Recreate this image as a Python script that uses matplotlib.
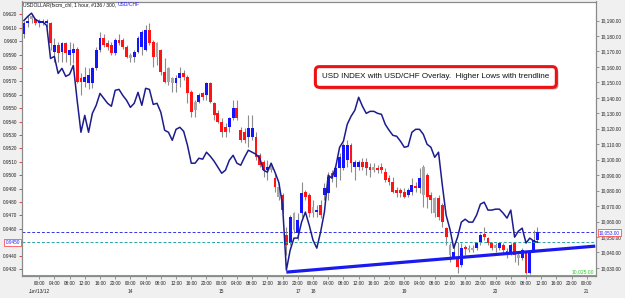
import numpy as np
import pandas as pd
import matplotlib
matplotlib.use('Agg')
import matplotlib.pyplot as plt
import matplotlib.patheffects as pe
from matplotlib.transforms import blended_transform_factory

plt.rcParams['font.family'] = ['Liberation Sans', 'DejaVu Sans']

# hourly bars, index 0 = Jun 13 00:00, weekend (Fri 20:00 .. Sun 19:00) removed
bar_idx = np.arange(-4, 132)
times = list(pd.date_range('2012-06-12 20:00', '2012-06-15 19:00', freq='h')) + \
        list(pd.date_range('2012-06-17 20:00', '2012-06-21 02:00', freq='h'))

# USDOLLAR candles (right scale)
opens = [10181.6, 10188.1, 10191.3, 10191.3, 10188.1, 10188.3, 10188.1, 10188.1, 10169.4, 10173.9,
         10169.4, 10175.2, 10167.4, 10168.7, 10171.3, 10152.6, 10150.0, 10149.4, 10149.4, 10159.0,
         10170.7, 10178.4, 10175.2, 10173.9, 10168.7, 10177.1, 10177.1, 10172.6, 10165.5, 10166.1,
         10169.4, 10172.6, 10170.7, 10183.6, 10175.8, 10175.2, 10170.7, 10156.5, 10159.0, 10152.6,
         10149.4, 10152.6, 10155.8, 10153.2, 10143.6, 10132.0, 10137.1, 10142.9, 10141.6, 10149.4,
         10136.5, 10130.0, 10124.2, 10121.0, 10121.0, 10126.8, 10133.2, 10119.0, 10117.8, 10114.5,
         10114.5, 10114.5, 10102.9, 10098.4, 10093.3, 10096.5, 10088.1, 10082.3, 10077.1, 10051.3,
         10046.2, 10065.5, 10052.6, 10065.5, 10079.1, 10077.1, 10069.4, 10066.2, 10070.7, 10077.1,
         10078.4, 10091.3, 10088.7, 10094.5, 10094.5, 10099.7, 10109.4, 10095.2, 10095.2, 10098.4,
         10098.4, 10095.2, 10095.2, 10094.5, 10095.2, 10092.0, 10088.1, 10085.5, 10080.4, 10080.4,
         10079.1, 10077.1, 10079.1, 10082.9, 10081.6, 10095.2, 10090.0, 10077.1, 10075.2, 10075.2,
         10070.7, 10055.8, 10044.9, 10037.1, 10037.1, 10032.0, 10043.6, 10042.9, 10042.9, 10042.9,
         10046.8, 10052.0, 10049.4, 10046.2, 10044.9, 10042.9, 10044.9, 10041.0, 10039.7, 10046.2,
         10038.4, 10036.5, 10039.7, 10026.8, 10041.6, 10048.1]
highs = [10190.0, 10193.2, 10194.5, 10191.9, 10191.3, 10191.0, 10191.0, 10189.0, 10178.4, 10175.8,
         10175.8, 10175.8, 10175.8, 10175.2, 10172.6, 10155.8, 10159.7, 10159.0, 10159.7, 10172.6,
         10182.3, 10181.6, 10177.1, 10175.8, 10178.4, 10181.6, 10178.4, 10173.9, 10168.7, 10170.7,
         10180.3, 10183.6, 10186.8, 10188.1, 10177.1, 10175.8, 10171.9, 10165.5, 10159.7, 10153.2,
         10154.5, 10159.7, 10157.7, 10154.5, 10144.8, 10138.4, 10142.9, 10143.6, 10150.0, 10150.0,
         10137.1, 10132.0, 10126.8, 10123.6, 10127.4, 10138.4, 10138.4, 10121.0, 10120.3, 10128.7,
         10128.7, 10117.8, 10104.2, 10099.7, 10099.7, 10097.8, 10091.3, 10084.9, 10078.4, 10056.5,
         10064.2, 10066.2, 10065.5, 10085.5, 10080.4, 10078.4, 10073.9, 10070.7, 10073.9, 10084.9,
         10092.0, 10093.3, 10095.2, 10104.2, 10110.7, 10112.6, 10110.7, 10099.7, 10099.7, 10101.0,
         10101.0, 10097.8, 10097.8, 10096.5, 10097.8, 10094.5, 10090.0, 10088.7, 10082.3, 10081.6,
         10081.6, 10081.6, 10088.1, 10085.5, 10094.5, 10096.5, 10091.3, 10079.1, 10075.8, 10077.1,
         10072.0, 10056.5, 10046.2, 10046.2, 10046.8, 10046.2, 10044.9, 10044.9, 10044.9, 10046.8,
         10052.6, 10056.5, 10050.0, 10046.8, 10046.2, 10046.8, 10046.2, 10042.9, 10046.2, 10046.8,
         10039.7, 10042.9, 10040.4, 10041.6, 10054.5, 10056.5]
lows = [10179.0, 10185.5, 10188.7, 10186.8, 10186.1, 10187.0, 10186.0, 10170.7, 10162.9, 10162.9,
        10162.9, 10162.9, 10161.0, 10162.3, 10149.4, 10141.6, 10146.8, 10145.5, 10146.1, 10157.7,
        10169.4, 10172.6, 10170.7, 10167.4, 10167.4, 10173.9, 10171.9, 10165.5, 10162.9, 10162.9,
        10168.7, 10167.4, 10170.0, 10173.9, 10159.7, 10161.0, 10154.5, 10149.4, 10148.1, 10143.6,
        10143.6, 10146.8, 10151.3, 10136.5, 10127.4, 10127.4, 10136.5, 10138.4, 10138.4, 10136.5,
        10125.5, 10123.6, 10114.5, 10114.5, 10117.8, 10125.5, 10125.5, 10111.3, 10110.7, 10108.1,
        10112.6, 10099.7, 10095.2, 10088.7, 10086.8, 10092.0, 10079.1, 10073.9, 10065.5, 10038.4,
        10044.9, 10052.6, 10048.1, 10062.9, 10073.9, 10062.9, 10062.9, 10062.9, 10062.3, 10073.9,
        10073.9, 10085.5, 10082.3, 10086.8, 10093.3, 10095.2, 10092.0, 10086.8, 10093.3, 10093.3,
        10090.0, 10088.7, 10092.0, 10091.3, 10091.3, 10085.5, 10083.6, 10078.4, 10075.8, 10075.8,
        10075.2, 10075.8, 10077.1, 10079.1, 10078.4, 10069.4, 10068.7, 10065.5, 10062.9, 10061.0,
        10056.5, 10044.9, 10033.9, 10036.5, 10026.8, 10030.7, 10038.4, 10040.4, 10040.4, 10041.6,
        10044.9, 10048.1, 10044.9, 10041.6, 10040.4, 10041.6, 10039.7, 10036.5, 10038.4, 10033.9,
        10032.0, 10035.2, 10026.2, 10026.2, 10040.4, 10046.8]
closes = [10188.1, 10190.0, 10193.2, 10188.7, 10190.0, 10190.0, 10189.5, 10175.2, 10173.9, 10168.7,
          10175.2, 10168.7, 10170.7, 10171.3, 10150.0, 10150.0, 10153.2, 10154.5, 10159.0, 10170.7,
          10178.4, 10173.9, 10172.6, 10168.7, 10177.1, 10175.2, 10172.6, 10166.1, 10167.4, 10169.4,
          10178.4, 10182.3, 10183.6, 10175.2, 10166.1, 10166.1, 10156.5, 10150.0, 10150.0, 10149.4,
          10152.6, 10155.8, 10153.2, 10142.9, 10130.7, 10137.1, 10141.6, 10140.3, 10149.4, 10137.1,
          10128.7, 10124.2, 10117.8, 10117.8, 10126.8, 10133.2, 10126.8, 10112.6, 10112.6, 10120.3,
          10120.3, 10101.6, 10096.5, 10093.3, 10095.2, 10093.3, 10082.3, 10075.8, 10067.4, 10044.9,
          10062.9, 10054.5, 10061.0, 10078.4, 10075.8, 10065.5, 10065.5, 10067.4, 10064.2, 10081.6,
          10088.7, 10088.1, 10094.5, 10101.6, 10109.4, 10109.4, 10097.8, 10098.4, 10098.4, 10095.2,
          10094.5, 10093.3, 10093.3, 10093.3, 10093.3, 10086.8, 10085.5, 10079.1, 10078.4, 10078.4,
          10075.8, 10080.4, 10083.6, 10081.6, 10088.1, 10077.1, 10075.8, 10073.9, 10065.5, 10062.9,
          10059.7, 10050.0, 10038.4, 10040.4, 10030.7, 10042.9, 10042.3, 10041.6, 10041.6, 10046.2,
          10051.3, 10050.0, 10046.2, 10042.9, 10042.9, 10046.2, 10041.6, 10039.1, 10044.9, 10038.4,
          10036.5, 10041.6, 10026.8, 10040.4, 10048.1, 10053.0]
grey_bars = [-2, 24, 31, 34, 35, 41, 61, 63, 67, 72, 88, 101, 104, 108, 113, 114, 120, 126]

# USD/CHF overlay closes (left scale)
chf = [0.96155, 0.96185, 0.96210, 0.96163, 0.96148, 0.96143, 0.96118, 0.95872, 0.95887, 0.95760,
       0.95798, 0.95738, 0.95753, 0.95820, 0.95559, 0.95321, 0.95447, 0.95321, 0.95462, 0.95522,
       0.95611, 0.95574, 0.95537, 0.95515, 0.95634, 0.95641, 0.95596, 0.95559, 0.95507, 0.95537,
       0.95619, 0.95522, 0.95649, 0.95641, 0.95529, 0.95537, 0.95470, 0.95336, 0.95321, 0.95261,
       0.95343, 0.95358, 0.95328, 0.95224, 0.95090, 0.95090, 0.95127, 0.95120, 0.95172, 0.95142,
       0.95105, 0.95060, 0.95015, 0.95038, 0.95112, 0.95149, 0.95090, 0.95075, 0.95134, 0.95187,
       0.95172, 0.95157, 0.95127, 0.95038, 0.95023, 0.95090, 0.95023, 0.94948, 0.94777, 0.94292,
       0.94441, 0.94531, 0.94531, 0.94650, 0.94725, 0.94628, 0.94516, 0.94456, 0.94576, 0.94725,
       0.95000, 0.94978, 0.95067, 0.95209, 0.95254, 0.95380, 0.95440, 0.95485, 0.95582, 0.95515,
       0.95462, 0.95477, 0.95477, 0.95462, 0.95455, 0.95380, 0.95336, 0.95298, 0.95291, 0.95254,
       0.95209, 0.95216, 0.95321, 0.95343, 0.95343, 0.95306, 0.95231, 0.95209, 0.95134, 0.95172,
       0.94926, 0.94702, 0.94598, 0.94456, 0.94538, 0.94650, 0.94672, 0.94650, 0.94650, 0.94702,
       0.94784, 0.94799, 0.94740, 0.94740, 0.94747, 0.94747, 0.94717, 0.94680, 0.94740, 0.94538,
       0.94583, 0.94605, 0.94494, 0.94531, 0.94509, 0.94500]

# higher lows trendline (left scale)
trend_x = [65, 146.2]
trend_y = [0.94277, 0.94471]

usd_last = 10053.0
chf_last = 0.9450
usd_low = 10025.0

fig = plt.figure(figsize=(6.25, 2.98), dpi=100, facecolor='#f0f0f0')
ax = fig.add_axes([22 / 625, 22 / 298, 574 / 625, 274.5 / 298])
ax.set_facecolor('white')
ax2 = ax.twinx()

# candles
o = np.array(opens)
c = np.array(closes)
cols = np.where(c >= o, '#1414ff', '#ff1414').astype(object)
cols[np.isin(bar_idx, grey_bars)] = '#a8a8a8'
ax.vlines(bar_idx, lows, highs, color='#8c8c8c', lw=0.8, zorder=2)
ax.bar(bar_idx, np.abs(c - o), bottom=np.minimum(o, c), width=0.75, color=list(cols), linewidth=0, zorder=3)

ax.axhline(usd_last, color='#3434e8', ls=(0, (3, 2)), lw=0.7, zorder=1)
ax.axhline(usd_low, color='#1ee61e', lw=2.2, zorder=4)

# overlay
ax2.axhline(chf_last, color='#2aa5a5', ls=(0, (3, 2)), lw=0.7, zorder=1)
ax2.plot(bar_idx, chf, color='#1c1c8e', lw=1.1, zorder=3)
ax2.plot(trend_x, trend_y, color='#1a1af0', lw=2.3, solid_capstyle='butt', zorder=4)

ax.set_xlim(-4.5, 146.4)
ax.set_ylim(10024.8, 10202.3)
ax2.set_ylim(0.94248, 0.96297)

# axes / ticks
ax.yaxis.tick_right()
ax2.yaxis.tick_left()
usd_ticks = np.arange(10030, 10191, 10)
ax.set_yticks(usd_ticks)
ax.set_yticklabels([f'{v:,.2f}' for v in usd_ticks])
chf_ticks = np.round(np.arange(0.9430, 0.96201, 0.001), 4)
ax2.set_yticks(chf_ticks)
# the 0.9450 slot is taken by the current price marker
ax2.set_yticklabels(['' if abs(v - chf_last) < 1e-6 else f'{v:.4f}' for v in chf_ticks])

xt, xl = [], []
prev_day = None
for i, t in enumerate(times):
    b = i - 4
    if b < 0 or b > 146 or t.hour % 4 != 0:
        continue
    if prev_day is None:
        day = 'Jun/13/12'
    elif t.day != prev_day:
        day = str(t.day)
    else:
        day = ''
    prev_day = t.day
    xt.append(b)
    xl.append(t.strftime('%H:%M') + '\n' + day)
ax.set_xticks(xt)
ax.set_xticklabels(xl)
for lbl in ax.get_xticklabels():
    lbl.set_linespacing(1.75)
    lbl.set_verticalalignment('top')

ax.tick_params(axis='x', labelsize=3.4, length=2, width=0.5, pad=1.5, color='#707070', labelcolor='#222222')
ax.tick_params(axis='y', labelsize=3.4, length=2, width=0.5, pad=1.2, color='#707070', labelcolor='#222222')
ax2.tick_params(axis='y', labelsize=3.4, length=2, width=0.6, pad=1.2, color='#ee2222', labelcolor='#222222')
for a in (ax, ax2):
    for s in a.spines.values():
        s.set_color('#8a8a8a')
        s.set_linewidth(0.8)

# price markers
ax.annotate(f'{usd_last:,.2f}', xy=(1, usd_last), xycoords=('axes fraction', 'data'),
            xytext=(2.2, 0), textcoords='offset points', ha='left', va='center',
            fontsize=3.4, color='#2020ff', zorder=6,
            bbox=dict(boxstyle='square,pad=0.25', fc='white', ec='#ff5050', lw=0.6))
ax2.annotate(f'{chf_last:.4f}', xy=(0, chf_last), xycoords=('axes fraction', 'data'),
             xytext=(-1.5, 0), textcoords='offset points', ha='right', va='center',
             fontsize=3.4, color='#2020ff', zorder=6,
             bbox=dict(boxstyle='square,pad=0.25', fc='white', ec='#ff5050', lw=0.6))
trans = blended_transform_factory(ax.transAxes, ax.transData)
ax.text(0.997, usd_low + 0.9, f'{usd_low:,.2f}', transform=trans, ha='right', va='bottom',
        fontsize=3.6, color='#22cc22', zorder=6)

# chart title
t1 = fig.text(23 / 625, 1 - 5 / 298, 'USDOLLAR(fxcm_chl, 1 hour, #136 / 300, ', fontsize=3.6,
              va='center', ha='left', color='#111111')
fig.canvas.draw()
bb = t1.get_window_extent(fig.canvas.get_renderer())
fig.text(bb.x1 / fig.bbox.width, 1 - 5 / 298, 'USD/CHF', fontsize=3.6, va='center', ha='left', color='#2020ff')

# note box with drop shadow
note = ax2.text(0.721, 0.725, 'USD INDEX with USD/CHF Overlay.  Higher Lows with trendline',
                transform=ax2.transAxes, ha='center', va='center', fontsize=5.8,
                color='#111111', zorder=8,
                bbox=dict(boxstyle='round,pad=0.85,rounding_size=0.5', fc='white', ec='#ee1111', lw=2.2))
note.get_bbox_patch().set_path_effects([
    pe.SimplePatchShadow(offset=(1.5, -1.5), shadow_rgbFace='#808080', alpha=0.7),
    pe.Normal()])

fig.savefig('out.png', dpi=100, facecolor=fig.get_facecolor())
